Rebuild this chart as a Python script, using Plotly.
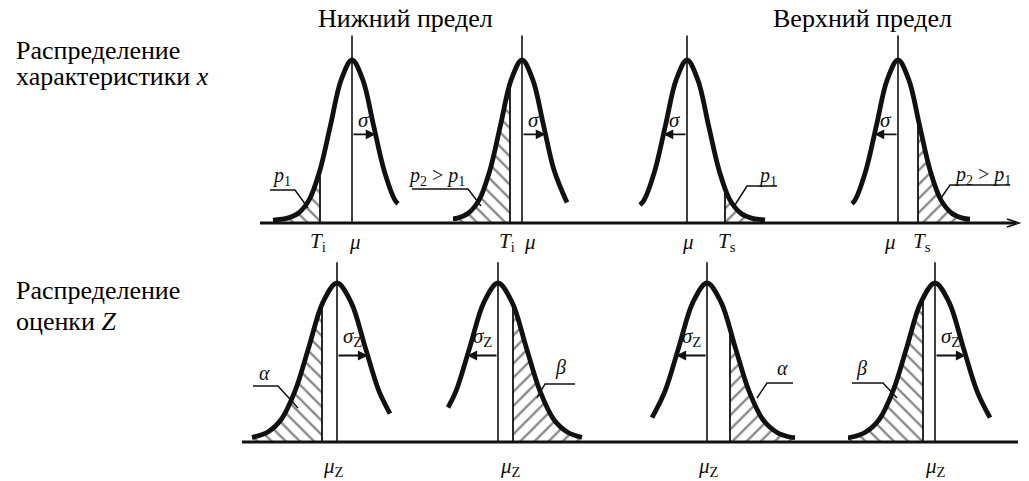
import numpy as np
import plotly.graph_objects as go

# ---------------- data ----------------
# bell profile: relative height vs offset from the mean (in sigma units)
profile_offset = [-4.0, -3.5, -3.0, -2.5, -2.0, -1.5, -1.0, -0.5, 0.0,
                  0.5, 1.0, 1.5, 2.0, 2.5, 3.0, 3.5, 4.0]
profile_height = [0.01, 0.02, 0.03, 0.06, 0.14, 0.32, 0.60, 0.88, 1.00,
                  0.88, 0.60, 0.32, 0.14, 0.06, 0.03, 0.02, 0.01]

# top row: distribution of characteristic x
top_mu = [352, 522, 687, 898]
top_sigma = [21.5, 21.5, 21.5, 21.5]
top_start = [273, 453, 640, 852]
top_end = [398, 567, 765, 970]
top_limit = [320, 510, 725, 918]
top_side = [-1, -1, 1, 1]            # hatched tail: -1 left, +1 right
top_sigma_dir = [1, 1, -1, -1]
top_limit_text = ["<i>T</i><sub>i</sub>", "<i>T</i><sub>i</sub>",
                  "<i>T</i><sub>s</sub>", "<i>T</i><sub>s</sub>"]
top_mean_text = ["<i>μ</i>"] * 4
top_prob_text = ["<i>p</i><sub>1</sub>", "<i>p</i><sub>2</sub> &gt; <i>p</i><sub>1</sub>",
                 "<i>p</i><sub>1</sub>", "<i>p</i><sub>2</sub> &gt; <i>p</i><sub>1</sub>"]

# bottom row: distribution of estimate Z
bot_mu = [337, 498, 707, 935]
bot_sigma = [28, 28, 28, 28]
bot_start = [252, 448, 652, 848]
bot_end = [390, 582, 795, 990]
bot_limit = [322, 513, 730, 923]
bot_side = [-1, 1, 1, -1]
bot_sigma_dir = [1, -1, -1, 1]
bot_mean_text = ["<i>μ</i><sub>Z</sub>"] * 4
bot_risk_text = ["<i>α</i>", "<i>β</i>", "<i>α</i>", "<i>β</i>"]

row_titles = ["Нижний предел", "Верхний предел"]
left_titles = [["Распределение", "характеристики <i>x</i>"],
               ["Распределение", "оценки <i>Z</i>"]]

# ---------------- layout constants (pixels) ----------------
W, H = 1029, 481
TOP_BASE, TOP_PEAK = 223, 163
BOT_BASE, BOT_PEAK = 442, 159
SERIF = "Liberation Serif"
INK = "#111111"
TOP_MEAN_SHIFT = [3, 8, 1, -8]
TOP_LIMIT_SHIFT = [-2, -3, 2, 4]
BOT_MEAN_SHIFT = [-4, 12, 1, 0]


def py(p):
    return 1 - p / H


def yrange(base, peak):
    return [(base - H) / peak, base / peak]


def bell(mu, s, x):
    return float(np.interp((x - mu) / s, profile_offset, profile_height))


def curve_pts(mu, s, a, b):
    xs = [a] + [mu + s * o for o in profile_offset if a + 2 < mu + s * o < b - 2] + [b]
    return xs, [bell(mu, s, x) for x in xs]


fig = go.Figure()
annots = []
shapes = []


def add_row(mu_l, s_l, st_l, en_l, lim_l, side_l, dir_l, yaxis, yref, mean_top,
            sig_text, sig_y, sig_tip):
    for mu, s, a, b, T, side, d in zip(mu_l, s_l, st_l, en_l, lim_l, side_l, dir_l):
        ha, hb = (a, T) if side < 0 else (T, b)
        hx, hy = curve_pts(mu, s, ha, hb)
        fig.add_trace(go.Scatter(
            x=hx + [hb, ha], y=hy + [0, 0], yaxis=yaxis, mode="lines",
            fill="toself", line=dict(width=0, color="rgba(0,0,0,0)"),
            fillcolor="white",
            fillpattern=dict(shape="\\" if side < 0 else "/", size=10, solidity=0.24,
                             fgcolor=INK, bgcolor="white"),
            hoverinfo="skip"))
        # limit line
        fig.add_trace(go.Scatter(x=[T, T], y=[0, bell(mu, s, T)], yaxis=yaxis,
                                 mode="lines", line=dict(width=1.8, color=INK),
                                 hoverinfo="skip"))
        # mean line
        fig.add_trace(go.Scatter(x=[mu, mu], y=[0, mean_top], yaxis=yaxis,
                                 mode="lines", line=dict(width=1.6, color=INK),
                                 hoverinfo="skip"))
        # bell curve
        cx, cy = curve_pts(mu, s, a, b)
        fig.add_trace(go.Scatter(x=cx, y=cy, yaxis=yaxis, mode="lines",
                                 line=dict(width=4.8, color=INK, shape="spline"),
                                 hoverinfo="skip"))
        # sigma arrow
        tipx = mu + d * sig_tip * s
        hy_ = bell(mu, s, tipx)
        annots.append(dict(x=tipx, y=hy_, ax=mu, ay=hy_, xref="x", yref=yref,
                           axref="x", ayref=yref, text="", showarrow=True,
                           arrowhead=2, arrowsize=1.1, arrowwidth=1.8,
                           arrowcolor=INK, standoff=0, startstandoff=0))
        annots.append(dict(x=mu + d * 0.55 * s, y=sig_y, xref="x", yref=yref,
                           text=sig_text, showarrow=False, yanchor="middle",
                           font=dict(family=SERIF, size=21, color=INK)))


add_row(top_mu, top_sigma, top_start, top_end, top_limit, top_side, top_sigma_dir,
        "y", "y", 1.15, "<i>σ</i>", 0.63, 1.1)
add_row(bot_mu, bot_sigma, bot_start, bot_end, bot_limit, bot_side, bot_sigma_dir,
        "y2", "y2", 1.13, "<i>σ</i><sub>Z</sub>", 0.66, 1.1)

# baselines
fig.add_trace(go.Scatter(x=[260, 1016], y=[0, 0], yaxis="y", mode="lines",
                         line=dict(width=3, color=INK), hoverinfo="skip"))
fig.add_trace(go.Scatter(x=[242, 1018], y=[0, 0], yaxis="y2", mode="lines",
                         line=dict(width=3, color=INK), hoverinfo="skip"))
shapes.append(dict(type="path", xref="x", yref="paper",
                   path=f"M 1007 {py(TOP_BASE - 4)} L 1019 {py(TOP_BASE)} L 1007 {py(TOP_BASE + 4)}",
                   line=dict(color=INK, width=1.6)))

# axis labels
lab_font = dict(family=SERIF, size=21, color=INK)
for T, txt, sh in zip(top_limit, top_limit_text, TOP_LIMIT_SHIFT):
    annots.append(dict(x=T, y=0, xref="x", yref="y", text=txt, showarrow=False,
                       yanchor="middle", yshift=-19, xshift=sh, font=lab_font))
for mu, txt, sh in zip(top_mu, top_mean_text, TOP_MEAN_SHIFT):
    annots.append(dict(x=mu, y=0, xref="x", yref="y", text=txt, showarrow=False,
                       yanchor="middle", yshift=-19, xshift=sh, font=lab_font))
for mu, txt, sh in zip(bot_mu, bot_mean_text, BOT_MEAN_SHIFT):
    annots.append(dict(x=mu, y=0, xref="x", yref="y2", text=txt, showarrow=False,
                       yanchor="middle", yshift=-25, xshift=sh, font=lab_font))

# probability labels with leader lines (pixel layout)
top_prob_pos = [(281, 176), (436, 176), (767, 176), (982, 175)]
top_leaders = [[(270, 190), (295, 190), (308, 208)],
               [(412, 189), (468, 189), (481, 206)],
               [(777, 186), (747, 186), (733, 208)],
               [(1010, 185), (950, 185), (941, 198)]]
bot_risk_pos = [(264, 373), (560, 367), (782, 368), (861, 368)]
bot_leaders = [[(253, 386), (278, 386), (298, 408)],
               [(575, 384), (545, 384), (537, 398)],
               [(793, 383), (767, 383), (757, 398)],
               [(852, 383), (883, 383), (897, 398)]]
for (x, y), txt in zip(top_prob_pos + bot_risk_pos, top_prob_text + bot_risk_text):
    annots.append(dict(x=x, y=py(y), xref="x", yref="paper", text=txt,
                       showarrow=False, yanchor="middle",
                       font=dict(family=SERIF, size=20, color=INK)))
for pts in top_leaders + bot_leaders:
    path = "M " + " L ".join(f"{x} {py(y)}" for x, y in pts)
    shapes.append(dict(type="path", xref="x", yref="paper", path=path,
                       line=dict(color=INK, width=1.5)))

# titles
for txt, cx in zip(row_titles, [405, 862]):
    annots.append(dict(x=cx, y=py(18), xref="x", yref="paper", text=txt,
                       showarrow=False, yanchor="middle",
                       font=dict(family=SERIF, size=26, color="black")))
for lines, ys in zip(left_titles, [(50, 76), (290, 321)]):
    for txt, y in zip(lines, ys):
        annots.append(dict(x=14, y=py(y), xref="x", yref="paper", text=txt,
                           xanchor="left", yanchor="middle", showarrow=False,
                           font=dict(family=SERIF, size=26, color="black")))

fig.update_layout(
    width=W, height=H, margin=dict(l=0, r=0, t=0, b=0),
    paper_bgcolor="white", plot_bgcolor="white", showlegend=False,
    hovermode=False,
    xaxis=dict(range=[0, W], visible=False, fixedrange=True),
    yaxis=dict(range=yrange(TOP_BASE, TOP_PEAK), visible=False, domain=[0, 1]),
    yaxis2=dict(range=yrange(BOT_BASE, BOT_PEAK), visible=False, overlaying="y"),
    annotations=annots, shapes=shapes,
)

fig.write_html("out.html", config={"displayModeBar": False},
               post_script="document.body.style.margin='0';document.body.style.overflow='hidden';")
